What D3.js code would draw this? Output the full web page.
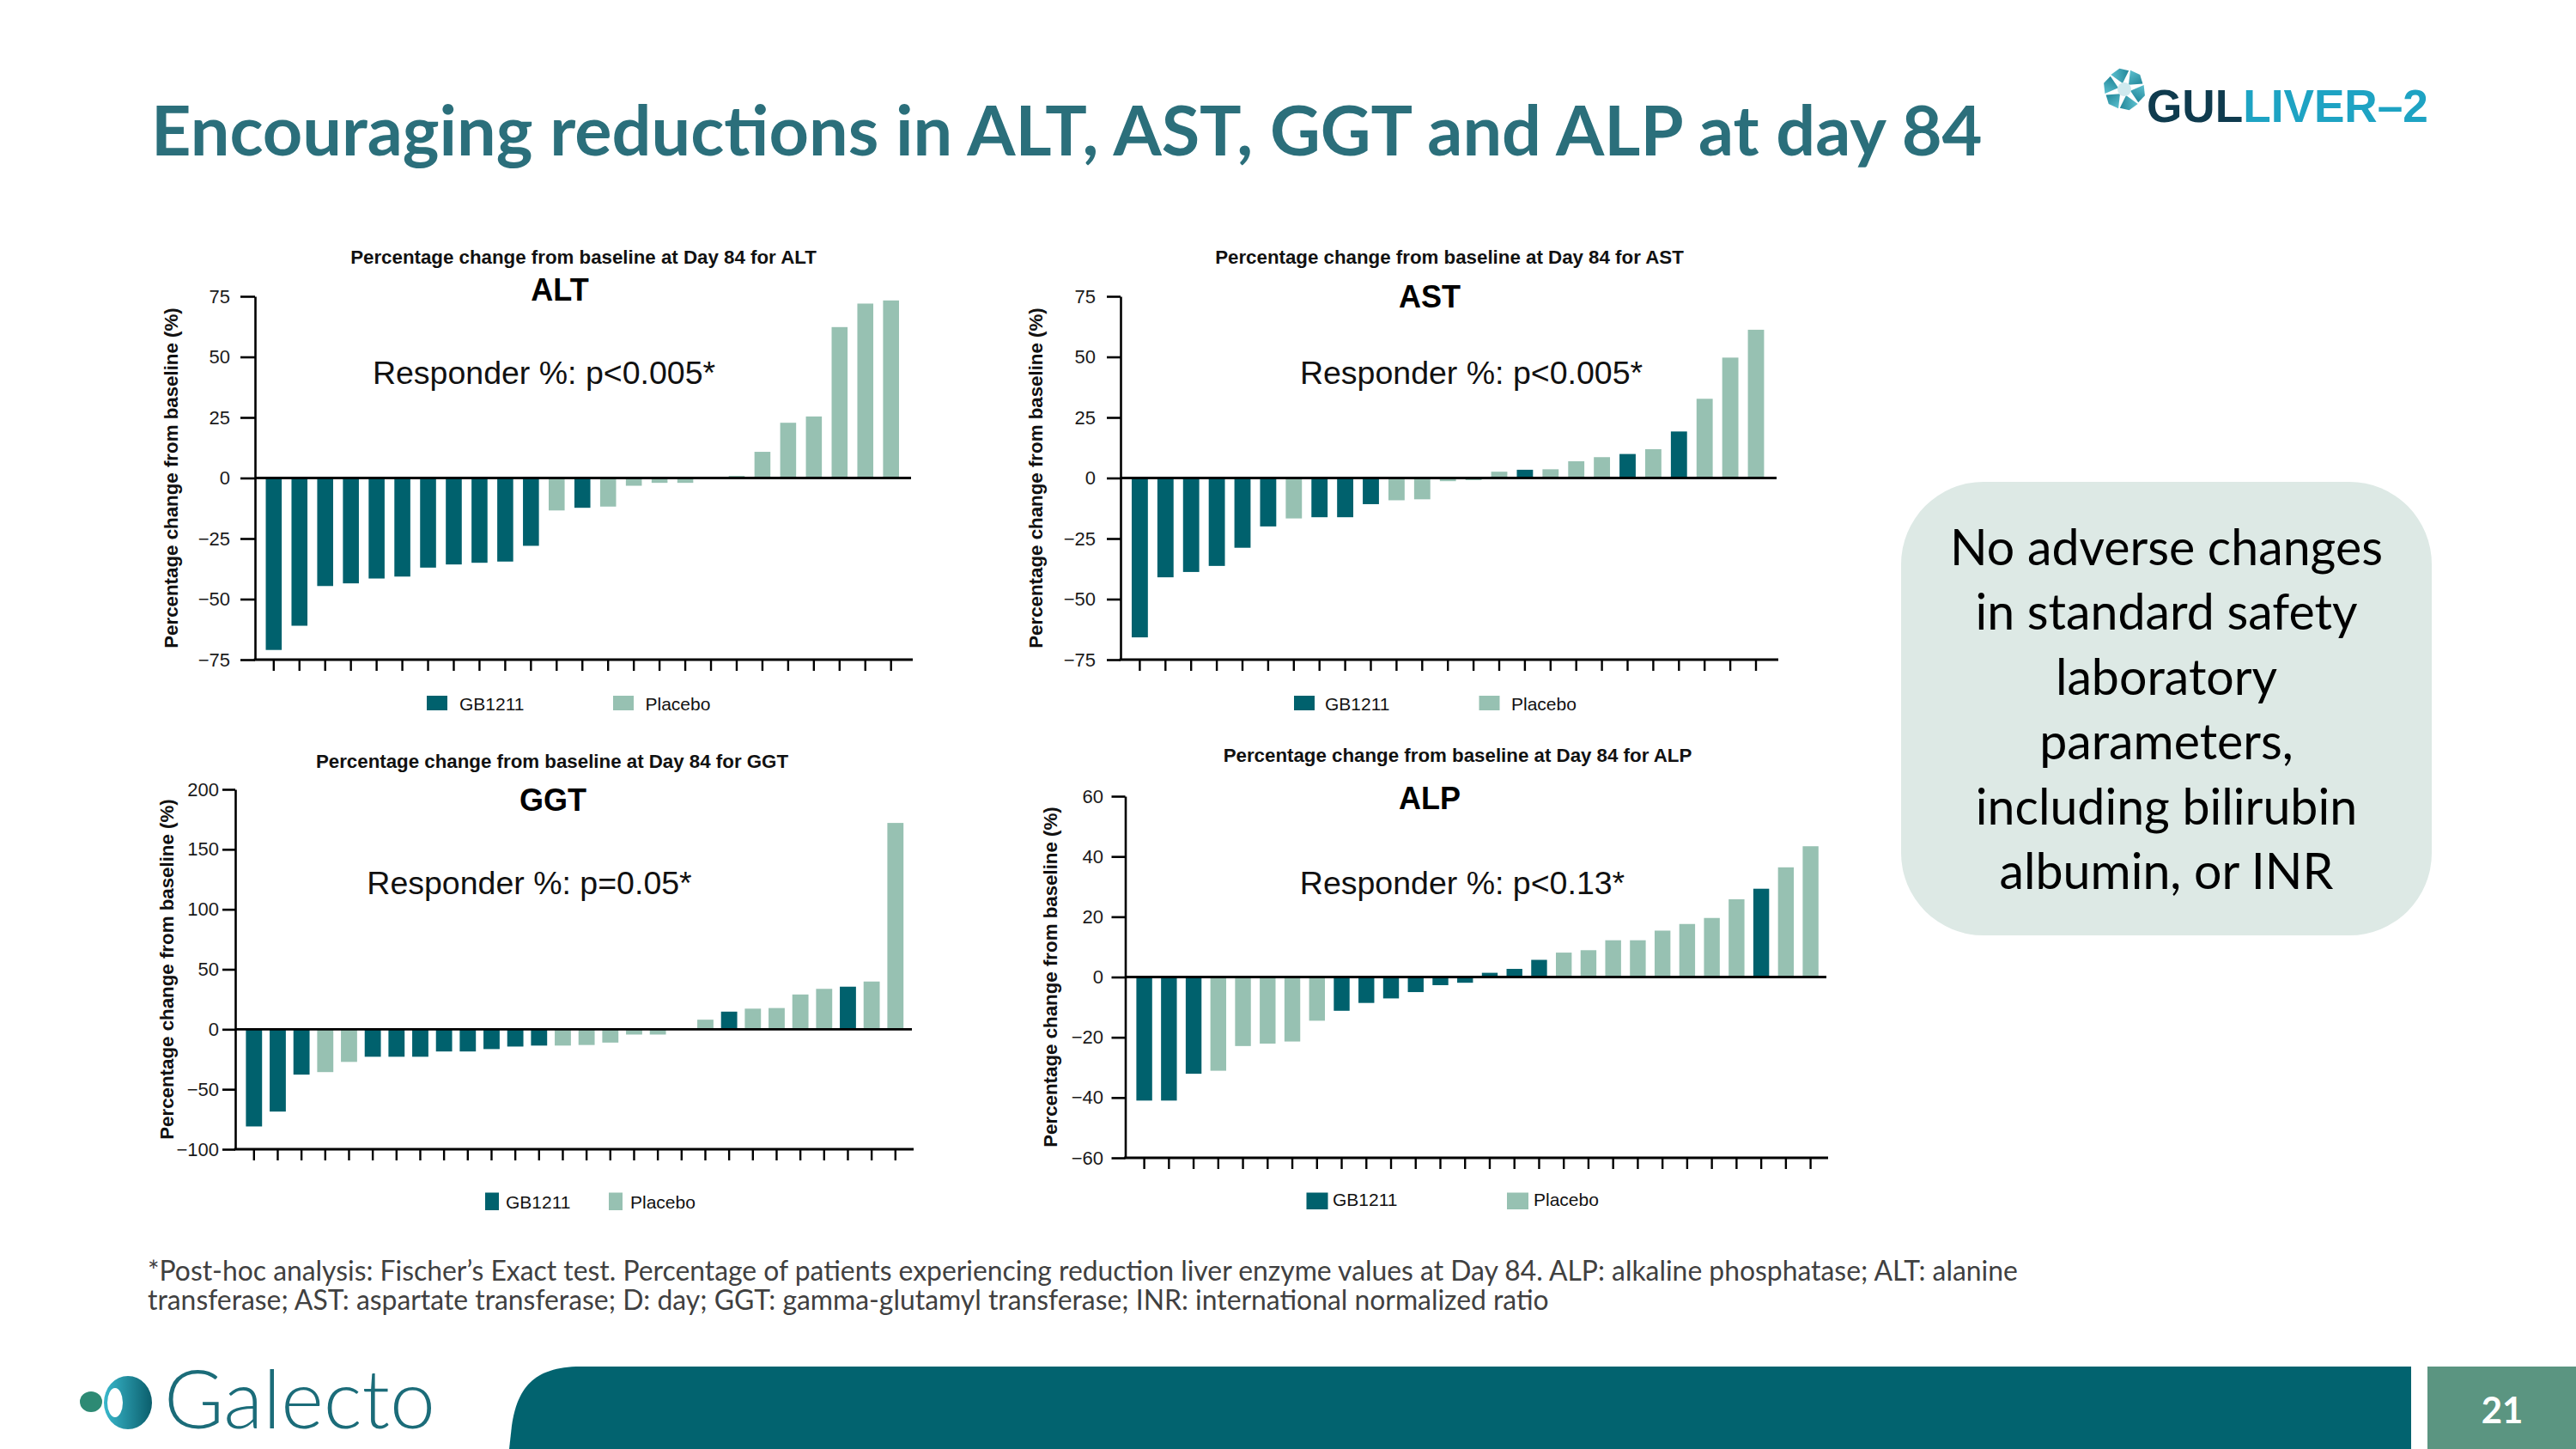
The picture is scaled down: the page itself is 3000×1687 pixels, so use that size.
<!DOCTYPE html>
<html>
<head>
<meta charset="utf-8">
<script src="https://cdn.jsdelivr.net/npm/d3@7"></script>
<style>
  html, body { margin: 0; padding: 0; background: #ffffff; }
  svg { display: block; }
</style>
</head>
<body>
<svg id="slide" width="3000" height="1687"></svg>
<script>
// ---------------- DATA ----------------
const seriesNames = ["GB1211", "Placebo"];

const altValues = [-71, -61, -44.6, -43.5, -41.5, -40.7, -37, -35.7, -35, -34.5, -28, -13.4, -12.3, -11.8, -3.2, -2, -2, 0.4, 0.9, 10.8, 22.8, 25.4, 62.3, 72, 73.3];
const altGroups = "GGGGGGGGGGGPGPPPPPPPPPPPP".split("");

const astValues = [-65.8, -41, -38.8, -36.3, -28.8, -20, -16.7, -16.2, -16.2, -10.8, -9.2, -8.8, -1.3, -0.9, 2.6, 3.4, 3.6, 6.9, 8.6, 9.9, 11.9, 19.2, 32.7, 49.7, 61.2];
const astGroups = "GGGGGGPGGGPPPPPGPPPGPGPPP".split("");

const ggtValues = [-81, -68.6, -37.8, -35.7, -27.2, -22.9, -22.9, -22.9, -18.5, -18.5, -16.5, -14.4, -13.6, -13.6, -13.1, -11.1, -4.4, -4.4, 0, 8, 14.7, 17.2, 17.7, 29, 33.7, 35.5, 39.8, 172];
const ggtGroups = "GGGPPGGGGGGGGPPPPPPPGPPPPGPP".split("");

const alpValues = [-41, -41, -32.1, -31.1, -22.9, -22.1, -21.4, -14.5, -11.2, -8.6, -7.1, -5, -2.7, -1.9, 1.4, 2.7, 5.7, 8.1, 8.9, 12.2, 12.2, 15.4, 17.6, 19.6, 25.8, 29.3, 36.4, 43.4];
const alpGroups = "GGGPPPPPGGGGGGGGGPPPPPPPPGPP".split("");

const altTicks = [-75, -50, -25, 0, 25, 50, 75];
const astTicks = [-75, -50, -25, 0, 25, 50, 75];
const ggtTicks = [-100, -50, 0, 50, 100, 150, 200];
const alpTicks = [-60, -40, -20, 0, 20, 40, 60];

const chartTitles = ["Percentage change from baseline at Day 84 for ALT", "Percentage change from baseline at Day 84 for AST", "Percentage change from baseline at Day 84 for GGT", "Percentage change from baseline at Day 84 for ALP"];
const enzymeNames = ["ALT", "AST", "GGT", "ALP"];
const responderTexts = ["Responder %: p<0.005*", "Responder %: p<0.005*", "Responder %: p=0.05*", "Responder %: p<0.13*"];
const yAxisLabel = "Percentage change from baseline (%)";

const slideTitle = "Encouraging reductions in ALT, AST, GGT and ALP at day 84";
const boxLines = ["No adverse changes", "in standard safety", "laboratory", "parameters,", "including bilirubin", "albumin, or INR"];
const footLines = ["*Post-hoc analysis: Fischer\u2019s Exact test. Percentage of patients experiencing reduction liver enzyme values at Day 84. ALP: alkaline phosphatase; ALT: alanine", "transferase; AST: aspartate transferase; D: day; GGT: gamma-glutamyl transferase; INR: international normalized ratio"];
const pageNumber = "21";

// ---------------- STYLE ----------------
const GB_COLOR = "#00616d";
const PL_COLOR = "#97c1b2";
const TEAL = "#2b6f7b";
const ARIAL = "'Liberation Sans', Arial, sans-serif";
const CAL = "Lato, 'Open Sans', sans-serif";

const svg = d3.select("#slide");

function fitWidth(sel, target) {
  const w = sel.node().getComputedTextLength();
  const fs = parseFloat(sel.attr("font-size"));
  sel.attr("font-size", fs * target / w);
  return fs * target / w;
}

// ---------------- CHARTS ----------------
const layouts = [
  { yAxisX: 297, xEnd: 1063, yTop: 345, yBot: 768, c1: 318.8, cn: 1037.7, barFrac: 0.62, tickLen: 17, tickPad: 12,
    title: [679.5, 307], name: [652, 350], resp: [633.5, 447], ylabX: 199,
    gbSq: [497, 810, 24, 17], gbTx: [535, 826.5], plSq: [714, 810, 24, 17], plTx: [751.5, 826.5] },
  { yAxisX: 1305, xEnd: 2071, yTop: 345, yBot: 768, c1: 1327.4, cn: 2045, barFrac: 0.63, tickLen: 16, tickPad: 13,
    title: [1688, 307], name: [1665, 358], resp: [1713.5, 447], ylabX: 1206,
    gbSq: [1507, 810, 24, 17], gbTx: [1543, 826.5], plSq: [1722.5, 810, 24, 17], plTx: [1760, 826.5] },
  { yAxisX: 274, xEnd: 1064, yTop: 919, yBot: 1338, c1: 295.8, cn: 1042.8, barFrac: 0.68, tickLen: 15, tickPad: 4,
    title: [643, 894], name: [644, 944], resp: [616.5, 1041], ylabX: 194,
    gbSq: [565, 1388.5, 16, 20.5], gbTx: [589, 1407], plSq: [709, 1388.5, 16, 20.5], plTx: [734, 1407] },
  { yAxisX: 1310.5, xEnd: 2129, yTop: 927, yBot: 1348, c1: 1332.6, cn: 2108.6, barFrac: 0.64, tickLen: 16, tickPad: 9.5,
    title: [1697.5, 887], name: [1665, 942], resp: [1703, 1041], ylabX: 1223,
    gbSq: [1521.5, 1388.5, 25, 19.5], gbTx: [1552, 1404], plSq: [1755, 1388.5, 25, 19.5], plTx: [1786, 1404] }
];

const datasets = [
  { values: altValues, groups: altGroups, ticks: altTicks },
  { values: astValues, groups: astGroups, ticks: astTicks },
  { values: ggtValues, groups: ggtGroups, ticks: ggtTicks },
  { values: alpValues, groups: alpGroups, ticks: alpTicks }
];

datasets.forEach((ds, i) => {
  const L = layouts[i];
  const n = ds.values.length;
  const step = (L.cn - L.c1) / (n - 1);
  const ids = d3.range(n);
  const x = d3.scaleBand().domain(ids)
    .range([L.c1 - step / 2, L.cn + step / 2])
    .paddingInner(1 - L.barFrac).paddingOuter((1 - L.barFrac) / 2);
  const y = d3.scaleLinear().domain(d3.extent(ds.ticks)).range([L.yBot, L.yTop]);

  const g = svg.append("g").attr("class", "chart chart-" + enzymeNames[i]);

  // bars
  g.selectAll("rect.bar").data(ds.values).join("rect")
    .attr("class", "bar")
    .attr("x", (d, j) => x(j))
    .attr("width", x.bandwidth())
    .attr("y", d => y(Math.max(0, d)))
    .attr("height", d => Math.abs(y(d) - y(0)))
    .attr("fill", (d, j) => ds.groups[j] === "G" ? GB_COLOR : PL_COLOR);

  // y axis
  const yAxis = d3.axisLeft(y).tickValues(ds.ticks).tickSize(L.tickLen).tickPadding(L.tickPad).tickSizeOuter(0)
    .tickFormat(d => d < 0 ? "\u2212" + Math.abs(d) : String(d));
  const ya = g.append("g").attr("transform", `translate(${L.yAxisX},0)`).call(yAxis);
  ya.select(".domain").attr("stroke", "#000").attr("stroke-width", 2.6);
  ya.selectAll(".tick line").attr("stroke", "#000").attr("stroke-width", 2.6);
  ya.selectAll(".tick text").attr("font-family", ARIAL).attr("font-size", 22).attr("fill", "#1a1a1a");

  // x axis ticks (no labels)
  const xAxis = d3.axisBottom(x).tickSize(13).tickFormat("").tickSizeOuter(0);
  const xa = g.append("g").attr("transform", `translate(0,${L.yBot})`).call(xAxis);
  xa.select(".domain").remove();
  xa.selectAll(".tick line").attr("stroke", "#000").attr("stroke-width", 2.4);

  // bottom axis line and zero line
  g.append("line").attr("x1", L.yAxisX - 1.3).attr("x2", L.xEnd).attr("y1", y(ds.ticks[0])).attr("y2", y(ds.ticks[0]))
    .attr("stroke", "#000").attr("stroke-width", 2.8);
  g.append("line").attr("x1", L.yAxisX).attr("x2", L.xEnd - 2).attr("y1", y(0)).attr("y2", y(0))
    .attr("stroke", "#000").attr("stroke-width", 2.8);

  // titles
  g.append("text").attr("x", L.title[0]).attr("y", L.title[1]).attr("text-anchor", "middle")
    .attr("font-family", ARIAL).attr("font-weight", "bold").attr("font-size", 22.3).attr("fill", "#111")
    .text(chartTitles[i]);
  g.append("text").attr("x", L.name[0]).attr("y", L.name[1]).attr("text-anchor", "middle")
    .attr("font-family", ARIAL).attr("font-weight", "bold").attr("font-size", 36).attr("fill", "#000")
    .text(enzymeNames[i]);
  g.append("text").attr("x", L.resp[0]).attr("y", L.resp[1]).attr("text-anchor", "middle")
    .attr("font-family", ARIAL).attr("font-size", 37.5).attr("fill", "#111")
    .text(responderTexts[i]);

  // y label
  g.append("text").attr("transform", `translate(${L.ylabX},${(L.yTop + L.yBot) / 2}) rotate(-90)`)
    .attr("dy", "0.35em").attr("text-anchor", "middle")
    .attr("font-family", ARIAL).attr("font-weight", "bold").attr("font-size", 22.3).attr("fill", "#111")
    .text(yAxisLabel);

  // legend
  g.append("rect").attr("x", L.gbSq[0]).attr("y", L.gbSq[1]).attr("width", L.gbSq[2]).attr("height", L.gbSq[3]).attr("fill", GB_COLOR);
  g.append("text").attr("x", L.gbTx[0]).attr("y", L.gbTx[1]).attr("font-family", ARIAL).attr("font-size", 21).attr("fill", "#111").text(seriesNames[0]);
  g.append("rect").attr("x", L.plSq[0]).attr("y", L.plSq[1]).attr("width", L.plSq[2]).attr("height", L.plSq[3]).attr("fill", PL_COLOR);
  g.append("text").attr("x", L.plTx[0]).attr("y", L.plTx[1]).attr("font-family", ARIAL).attr("font-size", 21).attr("fill", "#111").text(seriesNames[1]);
});

// ---------------- SLIDE DECOR ----------------
// title
const t = svg.append("text").attr("x", 176).attr("y", 181)
  .attr("font-family", CAL).attr("font-weight", "bold").attr("font-size", 80).attr("fill", TEAL)
  .text(slideTitle);
fitWidth(t, 2133);

// GULLIVER-2 logo
const logo = svg.append("g");
const defs = svg.append("defs");
const bladeGrad = defs.append("linearGradient").attr("id", "blade").attr("x1", "0").attr("y1", "0").attr("x2", "1").attr("y2", "1");
bladeGrad.append("stop").attr("offset", "0").attr("stop-color", "#5cc0cf");
bladeGrad.append("stop").attr("offset", "1").attr("stop-color", "#1b7f92");
d3.range(6).forEach(k => {
  logo.append("path")
    .attr("d", "M4,-6 L3,-23 L15,-20 L20,-10 Z")
    .attr("fill", "url(#blade)")
    .attr("transform", `translate(2474,104) rotate(${k * 60 + 10})`);
});
logo.append("circle").attr("cx", 2474).attr("cy", 104).attr("r", 8).attr("fill", "#cfe9ee");
const lt = logo.append("text").attr("x", 2500).attr("y", 142).attr("font-family", ARIAL).attr("font-weight", "bold").attr("font-size", 56);
lt.append("tspan").attr("fill", "#0f3b4e").text("GUL");
lt.append("tspan").attr("fill", "#1ea3c3").text("LIVER\u20132");
fitWidth(lt, 328);

// rounded box
svg.append("rect").attr("x", 2214).attr("y", 561).attr("width", 618).attr("height", 528).attr("rx", 96).attr("ry", 96).attr("fill", "#dde9e5");
const boxText = svg.append("g");
const b0 = boxText.append("text").attr("font-family", CAL).attr("font-size", 50).text(boxLines[0]);
const bfs = fitWidth(b0, 504);
b0.remove();
boxLines.forEach((line, k) => {
  boxText.append("text").attr("x", 2523).attr("y", 658 + k * 75.4).attr("text-anchor", "middle")
    .attr("font-family", CAL).attr("font-size", bfs).attr("fill", "#000").text(line);
});

// footnote
const f0 = svg.append("text").attr("x", 172).attr("y", 1491).attr("font-family", CAL).attr("font-size", 30).attr("fill", "#404040").text(footLines[0]);
const ffs = fitWidth(f0, 2179);
svg.append("text").attr("x", 172).attr("y", 1525).attr("font-family", CAL).attr("font-size", ffs).attr("fill", "#404040").text(footLines[1]);

// footer band
svg.append("path").attr("d", "M593,1687 L596,1660 C602,1618 620,1591 676,1591 L2808,1591 L2808,1687 Z").attr("fill", "#02636f");
svg.append("rect").attr("x", 2827).attr("y", 1591).attr("width", 173).attr("height", 96).attr("fill", "#5b9581");
svg.append("text").attr("x", 2914).attr("y", 1657).attr("text-anchor", "middle").attr("font-family", CAL).attr("font-weight", "bold")
  .attr("font-size", 42).attr("fill", "#ffffff").text(pageNumber);

// Galecto logo
const gGrad = defs.append("linearGradient").attr("id", "galGrad").attr("x1", "0").attr("y1", "0").attr("x2", "1").attr("y2", "0");
gGrad.append("stop").attr("offset", "0").attr("stop-color", "#39b8cc");
gGrad.append("stop").attr("offset", "1").attr("stop-color", "#0b5e6c");
svg.append("ellipse").attr("cx", 106).attr("cy", 1632).attr("rx", 13).attr("ry", 12).attr("fill", "#2d8a74");
svg.append("ellipse").attr("cx", 149).attr("cy", 1633).attr("rx", 28).attr("ry", 31).attr("fill", "url(#galGrad)");
svg.append("ellipse").attr("cx", 134).attr("cy", 1633).attr("rx", 9).attr("ry", 17).attr("fill", "#ffffff");
const gal = svg.append("text").attr("x", 191).attr("y", 1663).attr("font-family", CAL).attr("font-weight", 300)
  .attr("font-size", 80).attr("fill", "#1b6c79").text("Galecto");
fitWidth(gal, 316);
</script>
</body>
</html>
